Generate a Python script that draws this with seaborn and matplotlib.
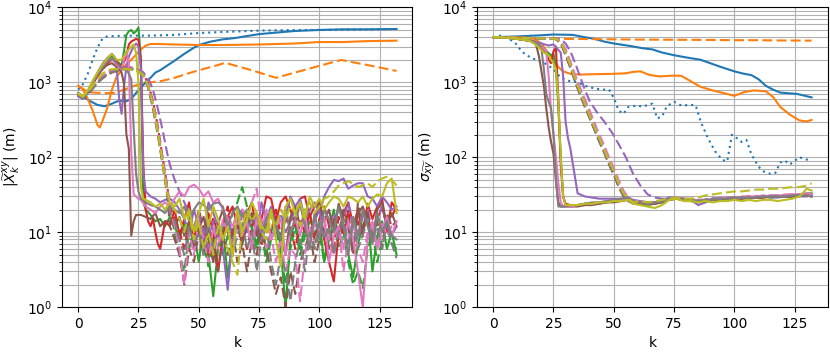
import matplotlib
matplotlib.use("Agg")
import matplotlib.pyplot as plt
import seaborn as sns

# ---------------- colours (tab10) ----------------
C_BLUE, C_ORANGE, C_GREEN, C_RED, C_PURPLE = "#1f77b4", "#ff7f0e", "#2ca02c", "#d62728", "#9467bd"
C_BROWN, C_PINK, C_GRAY, C_OLIVE = "#8c564b", "#e377c2", "#7f7f7f", "#bcbd22"

X_TICKS = [0, 25, 50, 75, 100, 125]
LEFT_YLABEL = r"$|\widetilde{X}_k^{xy}|$ (m)"
RIGHT_YLABEL = r"$\sigma_{\widetilde{xy}}$ (m)"
X_LABEL = "k"

# =============== LEFT PANEL: |X_k^xy| ===============
L_blue_solid_k = [0, 2, 5, 8, 11, 14, 17, 20, 22, 24, 26, 28, 30, 32, 34, 36, 40, 44, 48, 50, 55, 60, 65, 70, 75, 80, 90, 100, 110, 120, 132]
L_blue_solid_v = [720, 650, 560, 500, 480, 520, 570, 560, 600, 720, 850, 1000, 1150, 1350, 1450, 1600, 1950, 2400, 2900, 3150, 3500, 3750, 3900, 4150, 4400, 4550, 4850, 5000, 5100, 5100, 5150]

L_blue_dot_k = [0, 2, 4, 6, 8, 10, 12, 15, 20, 30, 40, 50, 60, 75, 90, 100, 115, 132]
L_blue_dot_v = [800, 950, 1300, 2000, 2900, 3800, 4100, 4150, 4200, 4200, 4300, 4550, 4700, 4900, 5000, 5000, 5050, 5150]

L_orange_solid_k = [0, 2, 4, 6, 8, 9, 10, 12, 14, 16, 18, 20, 22, 24, 26, 28, 30, 33, 40, 50, 60, 75, 90, 100, 110, 120, 132]
L_orange_solid_v = [900, 800, 600, 420, 270, 250, 300, 450, 800, 1200, 1450, 1750, 2000, 2350, 2750, 3100, 3250, 3250, 3200, 3150, 3150, 3200, 3300, 3450, 3450, 3550, 3600]

L_orange_dash_k = [0, 3, 6, 10, 15, 20, 25, 30, 35, 40, 45, 50, 55, 61, 72, 82, 95, 109, 120, 132]
L_orange_dash_v = [900, 780, 730, 720, 720, 820, 940, 1000, 1050, 1150, 1300, 1450, 1600, 1820, 1450, 1150, 1500, 1990, 1700, 1420]

# solid heads (before settling)
L_green_s_k = [0, 2, 4, 6, 8, 10, 12, 14, 16, 18, 19, 20, 21, 22, 23, 24, 25, 26, 27, 28, 30, 32, 34, 36]
L_green_s_v = [700, 620, 760, 1000, 1300, 1650, 2000, 2250, 1900, 1700, 2600, 4300, 4800, 5000, 4500, 4800, 5400, 2000, 25, 20, 17, 14, 15, 12]
L_red_s_k = [0, 2, 4, 6, 8, 10, 12, 14, 16, 18, 20, 21, 22, 24, 25, 26, 27, 28, 29, 30, 31, 32, 33, 34, 35, 36]
L_red_s_v = [680, 640, 740, 950, 1200, 1500, 1800, 2000, 1900, 1600, 2200, 3200, 3500, 3800, 3700, 2000, 80, 20, 14, 12, 15, 10, 7, 6, 9, 14]
L_purple_s_k = [0, 2, 4, 6, 8, 10, 12, 14, 15, 16, 17, 18, 19, 20, 21, 22, 23, 24, 25, 26, 27, 28, 30, 32, 34, 36]
L_purple_s_v = [650, 600, 720, 1000, 1350, 1750, 2100, 2400, 2200, 1500, 600, 380, 900, 1600, 2200, 2600, 3000, 3300, 3000, 1500, 60, 35, 30, 28, 25, 27]
L_brown_s_k = [0, 2, 4, 6, 8, 10, 12, 14, 16, 17, 18, 19, 20, 21, 22, 23, 24, 25, 26, 28, 30, 32, 34, 36]
L_brown_s_v = [700, 620, 740, 980, 1250, 1500, 1700, 1800, 1600, 1500, 1350, 950, 200, 130, 9, 14, 17, 17, 17, 16, 15, 18, 12, 14]
L_pink_s_k = [0, 2, 4, 6, 8, 10, 12, 14, 16, 18, 19, 20, 21, 22, 23, 24, 25, 26, 28, 30, 32, 34, 36]
L_pink_s_v = [700, 630, 760, 1000, 1300, 1600, 1900, 2050, 1700, 1500, 2000, 2600, 1800, 120, 32, 30, 28, 27, 22, 20, 18, 22, 25]
L_gray_s_k = [0, 2, 4, 6, 8, 10, 12, 14, 16, 18, 20, 21, 22, 23, 24, 25, 26, 28, 30, 32, 34, 36]
L_gray_s_v = [690, 620, 750, 990, 1280, 1600, 1900, 2100, 1800, 1550, 1500, 1300, 1100, 250, 60, 35, 28, 25, 23, 22, 20, 18]
L_olive_s_k = [0, 2, 4, 6, 8, 10, 12, 14, 16, 18, 20, 22, 23, 24, 25, 26, 27, 28, 30, 32, 34, 36]
L_olive_s_v = [700, 640, 780, 1050, 1350, 1700, 2050, 2400, 2000, 2000, 2500, 3000, 3200, 2500, 1000, 40, 28, 27, 25, 22, 24, 20]

# dashed heads
L_dash_head_k = [0, 2, 4, 6, 8, 10, 12, 14, 17, 20, 24, 27, 29, 31, 33, 35, 37]
L_green_d_v = [700, 640, 700, 850, 1000, 1150, 1300, 1400, 1500, 1550, 1500, 1300, 900, 500, 230, 90, 35]
L_red_d_v = [690, 630, 690, 840, 1000, 1180, 1350, 1450, 1550, 1600, 1550, 1350, 950, 560, 260, 100, 40]
L_purple_d_v = [700, 630, 700, 850, 1000, 1150, 1300, 1400, 1500, 1550, 1500, 1350, 1150, 800, 450, 230, 110]
L_brown_d_v = [700, 620, 680, 820, 980, 1120, 1250, 1350, 1450, 1500, 1450, 1250, 850, 450, 200, 80, 30]
L_pink_d_v = [710, 640, 710, 860, 1020, 1180, 1320, 1420, 1520, 1560, 1500, 1300, 920, 520, 240, 95, 38]
L_gray_d_v = [700, 630, 690, 830, 990, 1140, 1280, 1380, 1480, 1530, 1480, 1280, 880, 480, 210, 85, 32]
L_olive_d_v = [720, 660, 740, 900, 1100, 1300, 1450, 1500, 1500, 1500, 1450, 1250, 900, 500, 220, 85, 33]

# noisy tails (k = 38 ... 132, every 2)
L_tail_k = [38, 40, 42, 44, 46, 48, 50, 52, 54, 56, 58, 60, 62, 64, 66, 68, 70, 72, 74, 76,
            78, 80, 82, 84, 86, 88, 90, 92, 94, 96, 98, 100, 102, 104, 106, 108, 110, 112, 114, 116,
            118, 120, 122, 124, 126, 128, 130, 132]
L_green_s_t = [16, 12, 8, 14, 6, 10, 4, 12, 5, 1.4, 6, 12, 2.5, 8, 15, 9, 20, 11, 7, 14,
               5, 10, 16, 6, 1.0, 8, 15, 6, 12, 18, 9, 14, 4, 11, 20, 8, 13, 5, 2.5, 7,
               12, 18, 3, 9, 14, 6, 10, 5]
L_red_s_t = [12, 20, 9, 15, 25, 8, 14, 6, 18, 10, 3, 9, 16, 22, 12, 7, 18, 25, 10, 15,
             30, 28, 14, 25, 30, 20, 12, 28, 30, 16, 22, 25, 8, 4, 2.2, 10, 18, 25, 12, 20,
             9, 24, 15, 22, 28, 10, 25, 20]
L_purple_s_t = [28, 25, 20, 15, 10, 20, 12, 8, 25, 18, 12, 6, 1.7, 9, 15, 20, 10, 18, 9, 25,
                14, 20, 12, 8, 16, 30, 22, 28, 15, 20, 25, 18, 30, 40, 50, 48, 52, 38, 42, 45,
                45, 30, 28, 22, 30, 25, 20, 22]
L_brown_s_t = [14, 12, 16, 9, 14, 6, 11, 16, 8, 4, 13, 20, 10, 6, 15, 7, 12, 18, 9, 14,
               11, 20, 13, 8, 5, 16, 22, 12, 18, 9, 15, 25, 14, 20, 10, 24, 15, 12, 6, 18,
               22, 14, 8, 20, 25, 12, 18, 12]
L_pink_s_t = [22, 28, 35, 30, 40, 43, 38, 30, 35, 25, 28, 20, 15, 12, 18, 9, 14, 6, 16, 10,
              20, 8, 12, 15, 5, 10, 15, 9, 18, 7, 13, 10, 16, 4, 9, 12, 6, 14, 8, 3,
              1.0, 8, 14, 6, 11, 16, 9, 14]
L_gray_s_t = [22, 20, 18, 22, 15, 20, 25, 23, 20, 24, 25, 22, 12, 18, 22, 16, 20, 14, 18, 10,
              15, 20, 12, 8, 22, 9, 16, 24, 12, 6, 18, 8, 20, 15, 10, 22, 12, 5, 16, 9,
              20, 12, 7, 18, 10, 14, 9, 8]
L_olive_s_t = [25, 22, 28, 15, 20, 10, 18, 28, 12, 22, 15, 8, 12, 4.7, 20, 10, 15, 25, 18, 12,
               10, 20, 8, 3.5, 22, 28, 18, 25, 15, 30, 22, 28, 20, 25, 30, 28, 22, 30, 28, 25,
               30, 22, 28, 32, 30, 45, 52, 18]
L_green_d_t = [20, 10, 5, 3, 10, 6, 15, 7, 3.5, 8, 12, 5, 9, 18, 25, 40, 22, 12, 6, 10,
               4, 8, 12, 5, 2, 6, 12, 5, 9, 14, 6, 10, 4, 8, 14, 6, 10, 4, 2, 3,
               1.8, 6, 10, 4, 8, 12, 7, 6]
L_red_d_t = [22, 15, 10, 6, 14, 8, 20, 11, 5, 16, 9, 13, 22, 8, 15, 10, 6, 12, 18, 7,
             14, 10, 20, 9, 15, 12, 6, 14, 10, 18, 8, 15, 22, 12, 6, 16, 9, 20, 5, 14,
             10, 18, 8, 15, 22, 12, 16, 22]
L_purple_d_t = [80, 50, 35, 25, 18, 12, 18, 10, 6, 14, 8, 12, 16, 9, 20, 14, 10, 18, 12, 8,
                15, 22, 12, 18, 10, 14, 20, 12, 16, 8, 14, 20, 10, 12, 18, 9, 15, 25, 12, 8,
                16, 20, 10, 14, 22, 12, 9, 12]
L_brown_d_t = [12, 8, 5, 2, 6, 4, 10, 5, 12, 6, 3, 9, 5, 11, 4, 7, 3, 8, 5, 12,
               6, 3, 1.5, 2.5, 1.0, 3, 1.5, 4, 6, 10, 4, 8, 12, 6, 15, 9, 20, 12, 5, 25,
               10, 18, 8, 14, 6, 18, 12, 14]
L_pink_d_t = [20, 12, 6, 2.0, 10, 5, 14, 8, 4, 12, 6, 15, 10, 7, 12, 20, 15, 25, 38, 12,
              6, 9, 4, 8, 3, 6, 5, 1.2, 5, 12, 7, 10, 15, 8, 5, 12, 3, 8, 14, 6,
              4, 10, 12, 6, 14, 9, 12, 12]
L_gray_d_t = [18, 14, 8, 5, 12, 7, 10, 5, 14, 6, 11, 8, 13, 5, 9, 14, 6, 10, 3, 8,
              12, 4, 2, 5, 3, 1.2, 4, 8, 3, 10, 6, 14, 8, 12, 5, 10, 15, 7, 12, 6,
              9, 15, 8, 12, 6, 14, 7, 4.5]
L_olive_d_t = [25, 20, 15, 10, 18, 8, 14, 6, 10, 5, 12, 8, 6, 4, 2.7, 12, 20, 14, 18, 10,
               8, 16, 12, 20, 15, 22, 18, 12, 20, 25, 18, 22, 28, 30, 35, 42, 45, 48, 44, 40,
               42, 45, 40, 48, 52, 55, 50, 42]

# =============== RIGHT PANEL: sigma_xy ===============
R_blue_solid_k = [0, 10, 20, 25, 33, 38, 42, 46, 50, 57, 62, 66, 70, 75, 80, 86, 90, 94, 100, 104, 107, 110, 113, 116, 119, 126, 132]
R_blue_solid_v = [4000, 4100, 4250, 4350, 4300, 4000, 3800, 3500, 3300, 3050, 2850, 2750, 2500, 2300, 2150, 2000, 1800, 1620, 1400, 1300, 1250, 1100, 900, 800, 730, 700, 630]

R_blue_dot_k = [0, 3, 6, 9, 11, 13, 16, 19, 22, 25, 28, 31, 35, 38, 42, 45, 48, 50, 52, 54, 56, 58, 60, 62, 64, 66, 68, 70, 72, 75, 78, 82, 84, 86, 89, 92, 95, 97, 99, 101, 103, 105, 107, 110, 112, 115, 117, 119, 121, 123, 125, 127, 129, 132]
R_blue_dot_v = [4000, 4200, 3900, 3400, 2800, 2400, 2100, 1950, 1750, 1500, 1150, 1050, 1000, 900, 830, 800, 800, 620, 420, 380, 470, 480, 490, 470, 500, 520, 330, 350, 480, 550, 490, 500, 490, 300, 180, 120, 92, 88, 200, 180, 160, 170, 110, 75, 65, 60, 62, 85, 90, 80, 90, 100, 95, 90]

R_orange_solid_k = [0, 10, 17, 20, 23, 25, 27, 29, 32, 36, 40, 45, 50, 55, 58, 61, 65, 69, 75, 78, 82, 86, 91, 97, 100, 104, 108, 113, 116, 119, 123, 127, 130, 132]
R_orange_solid_v = [4000, 4000, 3800, 3300, 2400, 2000, 1600, 1400, 1300, 1270, 1280, 1290, 1300, 1320, 1380, 1400, 1250, 1200, 1230, 1220, 1030, 870, 780, 700, 660, 740, 780, 760, 640, 470, 370, 310, 300, 315]

R_orange_dash_k = [0, 10, 20, 25, 30, 40, 50, 60, 75, 90, 100, 110, 120, 132]
R_orange_dash_v = [4000, 3950, 3900, 3850, 3800, 3780, 3750, 3720, 3700, 3680, 3650, 3650, 3620, 3600]

# solid heads
R_green_s_k = [0, 5, 10, 15, 17, 20, 22, 24, 25, 26, 27, 28, 29, 30]
R_green_s_v = [4000, 3950, 3800, 3600, 3400, 3000, 2600, 2300, 2400, 1500, 500, 100, 30, 23]
R_red_s_k = [0, 5, 10, 15, 17, 20, 22, 23, 24, 25, 26, 27, 28, 29, 30]
R_red_s_v = [4000, 3950, 3800, 3600, 3400, 2800, 2500, 2000, 1800, 2600, 2900, 600, 80, 30, 24]
R_purple_s_k = [0, 5, 10, 15, 17, 20, 23, 25, 26, 27, 28, 29, 30, 31]
R_purple_s_v = [4000, 3950, 3800, 3600, 3500, 3300, 3100, 3200, 3000, 2700, 2500, 1200, 300, 180]
R_brown_s_k = [0, 5, 10, 15, 17, 18, 19, 20, 21, 22, 23, 24, 25, 26, 27, 28, 30]
R_brown_s_v = [4000, 3950, 3800, 3600, 3500, 3000, 2200, 1400, 900, 450, 250, 160, 110, 50, 25, 22, 22]
R_pink_s_k = [0, 5, 10, 15, 17, 20, 22, 23, 24, 25, 26, 27, 28, 29, 30]
R_pink_s_v = [4000, 3950, 3800, 3600, 3300, 3000, 2600, 1200, 400, 200, 100, 45, 25, 22, 22]
R_gray_s_k = [0, 5, 10, 15, 17, 19, 20, 21, 22, 23, 24, 25, 26, 27, 28, 30]
R_gray_s_v = [4000, 3950, 3800, 3600, 3400, 3200, 2800, 1500, 700, 550, 450, 200, 50, 22, 22, 22]
R_olive_s_k = [0, 5, 10, 15, 17, 19, 21, 23, 24, 25, 26, 27, 28, 29, 30]
R_olive_s_v = [4000, 3950, 3800, 3600, 3300, 2900, 2500, 2300, 2000, 1800, 1500, 600, 100, 30, 23]

R_solid_tail_k = [32, 35, 38, 41, 44, 47, 50, 53, 56, 58, 61, 64, 67, 70, 73, 76, 79, 82, 85, 88, 91, 94, 97, 100, 103, 106, 109, 112, 115, 118, 121, 124, 127, 130, 132]
R_green_s_t = [22, 23, 23, 24, 24, 25, 26, 27, 28, 25, 24, 23, 24, 25, 28, 28, 27, 26, 25, 26, 27, 27, 28, 28, 29, 28, 29, 30, 29, 30, 31, 30, 32, 33, 33]
R_red_s_t = [23, 23, 24, 24, 25, 25, 26, 27, 28, 26, 24, 24, 24, 26, 28, 28, 27, 27, 26, 26, 27, 28, 28, 29, 28, 29, 29, 29, 30, 30, 30, 31, 31, 32, 32]
R_purple_s_t = [130, 33, 30, 29, 28, 28, 28, 28, 29, 27, 26, 25, 25, 27, 29, 29, 28, 27, 23, 25, 27, 28, 28, 28, 28, 29, 29, 30, 29, 29, 30, 30, 30, 30, 31]
R_brown_s_t = [22, 22, 23, 23, 24, 25, 25, 26, 27, 25, 24, 24, 24, 25, 27, 28, 27, 27, 26, 26, 27, 27, 28, 28, 28, 29, 29, 29, 30, 30, 30, 30, 31, 31, 30]
R_pink_s_t = [22, 23, 24, 24, 25, 26, 26, 27, 29, 26, 25, 24, 25, 26, 28, 29, 28, 28, 26, 27, 28, 28, 29, 29, 29, 30, 30, 30, 31, 31, 31, 32, 32, 33, 32]
R_gray_s_t = [23, 23, 24, 25, 25, 26, 27, 28, 29, 26, 25, 25, 25, 26, 28, 28, 28, 27, 26, 27, 27, 28, 28, 29, 29, 29, 29, 30, 30, 30, 30, 31, 31, 31, 30]
R_olive_s_t = [23, 23, 24, 24, 25, 25, 26, 26, 27, 24, 23, 22, 21, 23, 27, 28, 26, 26, 25, 26, 25, 26, 26, 27, 26, 27, 26, 27, 27, 26, 27, 28, 30, 38, 36]

# dashed heads
R_dash_head_k = [0, 5, 10, 15, 20, 24, 26, 28, 30, 32, 34, 36, 38, 40, 42, 44, 46, 48, 50, 52, 54, 56, 58]
R_green_d_v = [4000, 4000, 3950, 3900, 3850, 3850, 3800, 3400, 2400, 1650, 1080, 730, 500, 350, 240, 170, 120, 85, 62, 43, 32, 27, 25]
R_red_d_v = [4000, 4000, 3950, 3900, 3850, 3850, 3800, 3500, 2600, 1750, 1150, 780, 540, 380, 260, 185, 130, 92, 66, 46, 34, 28, 25]
R_brown_d_v = [4000, 3980, 3950, 3900, 3850, 3850, 3750, 3300, 2300, 1550, 1000, 680, 470, 330, 230, 160, 115, 80, 58, 40, 30, 26, 24]
R_pink_d_v = [4000, 4000, 3950, 3900, 3850, 3850, 3800, 3600, 2800, 1900, 1250, 850, 600, 420, 290, 200, 145, 100, 72, 50, 36, 29, 26]
R_gray_d_v = [4000, 3990, 3950, 3900, 3850, 3850, 3780, 3400, 2400, 1600, 1050, 700, 490, 340, 235, 165, 118, 83, 60, 42, 31, 26, 25]
R_olive_d_v = [4000, 4000, 3950, 3900, 3850, 3850, 3800, 3500, 2500, 1700, 1100, 750, 520, 360, 250, 180, 125, 90, 65, 45, 33, 28, 25]
R_purple_d_k = [0, 5, 10, 15, 20, 24, 26, 28, 30, 32, 34, 36, 38, 40, 43, 46, 49, 52, 55, 58]
R_purple_d_v = [4000, 4000, 3950, 3900, 3850, 3850, 3850, 3800, 3300, 2600, 1800, 1200, 800, 560, 400, 300, 220, 150, 100, 60]

R_dash_tail_k = [61, 64, 67, 70, 73, 76, 79, 82, 85, 88, 91, 94, 97, 100, 103, 106, 109, 112, 115, 118, 121, 124, 127, 130, 132]
R_green_d_t = [25, 24, 25, 26, 28, 28, 27, 27, 26, 27, 28, 28, 28, 29, 29, 29, 30, 30, 30, 31, 31, 31, 32, 32, 32]
R_red_d_t = [25, 25, 25, 26, 28, 28, 27, 27, 26, 27, 28, 28, 29, 29, 29, 30, 30, 30, 30, 30, 31, 31, 31, 32, 31]
R_purple_d_t = [42, 32, 29, 28, 28, 28, 27, 27, 27, 27, 28, 28, 28, 29, 29, 29, 29, 30, 30, 30, 30, 30, 31, 31, 30]
R_brown_d_t = [24, 24, 24, 26, 27, 28, 27, 26, 26, 26, 27, 28, 28, 28, 29, 29, 29, 29, 30, 30, 30, 30, 31, 31, 30]
R_pink_d_t = [26, 25, 25, 26, 28, 29, 28, 27, 27, 27, 28, 29, 29, 29, 30, 30, 30, 31, 31, 31, 32, 32, 32, 33, 32]
R_gray_d_t = [25, 24, 25, 26, 28, 28, 27, 27, 26, 27, 28, 28, 28, 29, 29, 29, 29, 30, 30, 30, 30, 31, 31, 31, 30]
R_olive_d_t = [26, 25, 26, 27, 28, 29, 28, 28, 29, 31, 32, 33, 34, 35, 35, 36, 37, 37, 38, 38, 39, 40, 40, 42, 45]

# ---------------- assemble series ----------------
SOLID, DASH, DOT = "-", (0, (4.8, 2.0)), (0, (1.0, 1.9))

left_series = [
    (L_blue_solid_k, L_blue_solid_v, C_BLUE, SOLID),
    (L_blue_dot_k, L_blue_dot_v, C_BLUE, DOT),
    (L_orange_solid_k, L_orange_solid_v, C_ORANGE, SOLID),
    (L_orange_dash_k, L_orange_dash_v, C_ORANGE, DASH),
    (L_green_s_k + L_tail_k, L_green_s_v + L_green_s_t, C_GREEN, SOLID),
    (L_dash_head_k + L_tail_k, L_green_d_v + L_green_d_t, C_GREEN, DASH),
    (L_red_s_k + L_tail_k, L_red_s_v + L_red_s_t, C_RED, SOLID),
    (L_dash_head_k + L_tail_k, L_red_d_v + L_red_d_t, C_RED, DASH),
    (L_purple_s_k + L_tail_k, L_purple_s_v + L_purple_s_t, C_PURPLE, SOLID),
    (L_dash_head_k + L_tail_k, L_purple_d_v + L_purple_d_t, C_PURPLE, DASH),
    (L_brown_s_k + L_tail_k, L_brown_s_v + L_brown_s_t, C_BROWN, SOLID),
    (L_dash_head_k + L_tail_k, L_brown_d_v + L_brown_d_t, C_BROWN, DASH),
    (L_pink_s_k + L_tail_k, L_pink_s_v + L_pink_s_t, C_PINK, SOLID),
    (L_dash_head_k + L_tail_k, L_pink_d_v + L_pink_d_t, C_PINK, DASH),
    (L_gray_s_k + L_tail_k, L_gray_s_v + L_gray_s_t, C_GRAY, SOLID),
    (L_dash_head_k + L_tail_k, L_gray_d_v + L_gray_d_t, C_GRAY, DASH),
    (L_olive_s_k + L_tail_k, L_olive_s_v + L_olive_s_t, C_OLIVE, SOLID),
    (L_dash_head_k + L_tail_k, L_olive_d_v + L_olive_d_t, C_OLIVE, DASH),
]

right_series = [
    (R_blue_solid_k, R_blue_solid_v, C_BLUE, SOLID),
    (R_blue_dot_k, R_blue_dot_v, C_BLUE, DOT),
    (R_orange_solid_k, R_orange_solid_v, C_ORANGE, SOLID),
    (R_orange_dash_k, R_orange_dash_v, C_ORANGE, DASH),
    (R_green_s_k + R_solid_tail_k, R_green_s_v + R_green_s_t, C_GREEN, SOLID),
    (R_dash_head_k + R_dash_tail_k, R_green_d_v + R_green_d_t, C_GREEN, DASH),
    (R_red_s_k + R_solid_tail_k, R_red_s_v + R_red_s_t, C_RED, SOLID),
    (R_dash_head_k + R_dash_tail_k, R_red_d_v + R_red_d_t, C_RED, DASH),
    (R_purple_s_k + R_solid_tail_k, R_purple_s_v + R_purple_s_t, C_PURPLE, SOLID),
    (R_purple_d_k + R_dash_tail_k, R_purple_d_v + R_purple_d_t, C_PURPLE, DASH),
    (R_brown_s_k + R_solid_tail_k, R_brown_s_v + R_brown_s_t, C_BROWN, SOLID),
    (R_dash_head_k + R_dash_tail_k, R_brown_d_v + R_brown_d_t, C_BROWN, DASH),
    (R_pink_s_k + R_solid_tail_k, R_pink_s_v + R_pink_s_t, C_PINK, SOLID),
    (R_dash_head_k + R_dash_tail_k, R_pink_d_v + R_pink_d_t, C_PINK, DASH),
    (R_gray_s_k + R_solid_tail_k, R_gray_s_v + R_gray_s_t, C_GRAY, SOLID),
    (R_dash_head_k + R_dash_tail_k, R_gray_d_v + R_gray_d_t, C_GRAY, DASH),
    (R_olive_s_k + R_solid_tail_k, R_olive_s_v + R_olive_s_t, C_OLIVE, SOLID),
    (R_dash_head_k + R_dash_tail_k, R_olive_d_v + R_olive_d_t, C_OLIVE, DASH),
]

# ---------------- figure ----------------
fig, axes = plt.subplots(1, 2, figsize=(8.3, 3.53), dpi=100)
fig.subplots_adjust(left=0.075, right=0.997, bottom=0.13, top=0.979, wspace=0.185)

for ax, series, ylabel in zip(axes, [left_series, right_series], [LEFT_YLABEL, RIGHT_YLABEL]):
    for k, v, col, ls in series:
        sns.lineplot(x=k, y=v, color=col, linestyle=ls, linewidth=1.5,
                     estimator=None, sort=False, ax=ax)
        ax.lines[-1].set_linestyle(ls)
    ax.set_yscale("log")
    ax.set_ylim(1, 1e4)
    ax.set_xticks(X_TICKS)
    ax.set_xlabel(X_LABEL)
    ax.set_ylabel(ylabel)
    ax.grid(True, which="major", color="#b0b0b0", linewidth=0.8)
    ax.grid(True, which="minor", axis="y", color="#b0b0b0", linewidth=0.8)
    ax.set_axisbelow(True)

fig.savefig("out.png", dpi=100)
